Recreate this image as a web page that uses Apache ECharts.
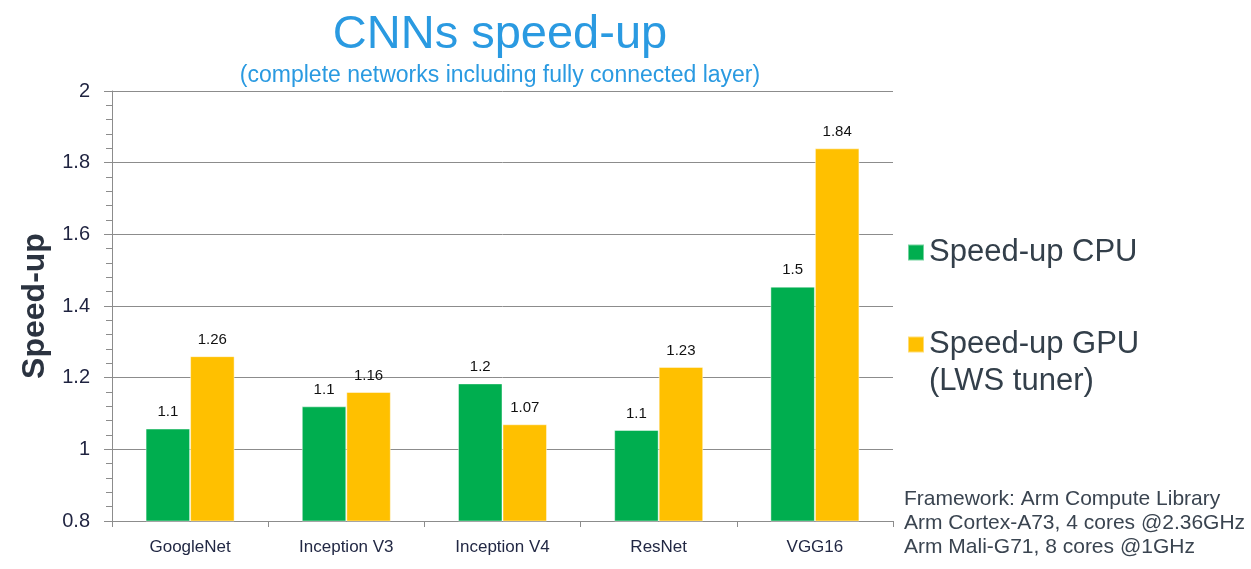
<!DOCTYPE html>
<html>
<head>
<meta charset="utf-8">
<title>CNNs speed-up</title>
<script src="https://cdn.jsdelivr.net/npm/echarts@6/dist/echarts.min.js"></script>
<style>
    html, body { margin: 0; padding: 0; background: #fff; }
    #main { width: 1251px; height: 569px; }
</style>
</head>
<body>
<div id="main"></div>
<script>
    // networks on the x axis
    var categories = ['GoogleNet', 'Inception V3', 'Inception V4', 'ResNet', 'VGG16'];
    // bar heights (labels are rounded)
    var cpuSpeedup = [1.058, 1.12, 1.184, 1.054, 1.454];
    var gpuSpeedup = [1.26, 1.16, 1.07, 1.23, 1.84];
    var cpuName = 'Speed-up CPU';
    var gpuName = 'Speed-up GPU (LWS tuner)';
    // y axis range
    var yMin = 0.8, yMax = 2, yStep = 0.2;
    var footer = [
        'Framework: Arm Compute Library',
        'Arm Cortex-A73, 4 cores @2.36GHz',
        'Arm Mali-G71, 8 cores @1GHz'
    ];

    var font = '"Liberation Sans", Arial, Helvetica, sans-serif';
    var gridColor = '#8c8c8c';

    var myChart = echarts.init(document.getElementById('main'));
    myChart.setOption({
        textStyle: { fontFamily: font },
        title: {
            text: 'CNNs speed-up',
            subtext: '(complete networks including fully connected layer)',
            left: 495,
            textAlign: 'center',
            top: 7,
            itemGap: 5,
            textStyle: { color: '#2a9ae1', fontSize: 47, fontWeight: 'normal', fontFamily: font },
            subtextStyle: { color: '#2a9ae1', fontSize: 23, fontFamily: font }
        },
        legend: {
            orient: 'vertical',
            left: 907,
            top: 234,
            padding: 0,
            itemWidth: 16,
            itemHeight: 16,
            itemGap: 18,
            icon: 'rect',
            selectedMode: false,
            textStyle: { color: '#333f4a', fontSize: 31, fontFamily: font, lineHeight: 37 },
            // blank first line keeps the swatch next to "Speed-up GPU"
            formatter: function (name) {
                return name === gpuName ? '\n' + name.replace(' (', '\n(') : name;
            },
            data: [cpuName, gpuName]
        },
        grid: { left: 112, right: 358, top: 91, bottom: 48, containLabel: false },
        xAxis: {
            type: 'category',
            data: categories,
            axisLine: { lineStyle: { color: gridColor, width: 1 } },
            axisTick: { show: true, length: 6, lineStyle: { color: gridColor } },
            axisLabel: { color: '#222844', fontSize: 17, margin: 18, fontFamily: font },
            splitLine: { show: false }
        },
        yAxis: {
            type: 'value',
            min: yMin,
            max: yMax,
            interval: yStep,
            name: 'Speed-up',
            nameLocation: 'middle',
            nameGap: 53,
            nameRotate: 90,
            nameTextStyle: { color: '#2b3340', fontSize: 32, fontWeight: 'bold', fontFamily: font },
            axisLine: { show: true, lineStyle: { color: gridColor, width: 1 } },
            axisTick: { show: true, inside: false, length: 8, lineStyle: { color: gridColor } },
            minorTick: { show: true, splitNumber: 5, length: 6, lineStyle: { color: gridColor } },
            axisLabel: {
                color: '#1f2340',
                fontSize: 20,
                margin: 22,
                fontFamily: font,
                formatter: function (v) { return String(Math.round(v * 10) / 10); }
            },
            splitLine: { show: true, lineStyle: { color: gridColor, width: 1 } }
        },
        series: [
            {
                name: cpuName,
                type: 'bar',
                data: cpuSpeedup,
                barGap: '0%',
                barCategoryGap: '43%',
                itemStyle: { color: '#00ae4f', borderColor: 'rgba(255,255,255,0.45)', borderWidth: 1 },
                label: {
                    show: true, position: 'top', distance: 9,
                    color: '#111', fontSize: 15, fontFamily: font,
                    formatter: function (p) { return p.value.toFixed(1); }
                }
            },
            {
                name: gpuName,
                type: 'bar',
                data: gpuSpeedup,
                barGap: '0%',
                barCategoryGap: '43%',
                itemStyle: { color: '#ffc000', borderColor: 'rgba(255,255,255,0.45)', borderWidth: 1 },
                label: {
                    show: true, position: 'top', distance: 9,
                    color: '#111', fontSize: 15, fontFamily: font,
                    formatter: function (p) { return p.value.toFixed(2); }
                }
            }
        ],
        graphic: [
            {
                type: 'text',
                left: 904,
                top: 487,
                style: {
                    text: footer.join('\n'),
                    fill: '#3a4450',
                    font: '21px ' + font,
                    lineHeight: 24
                }
            }
        ]
    });
</script>
</body>
</html>
